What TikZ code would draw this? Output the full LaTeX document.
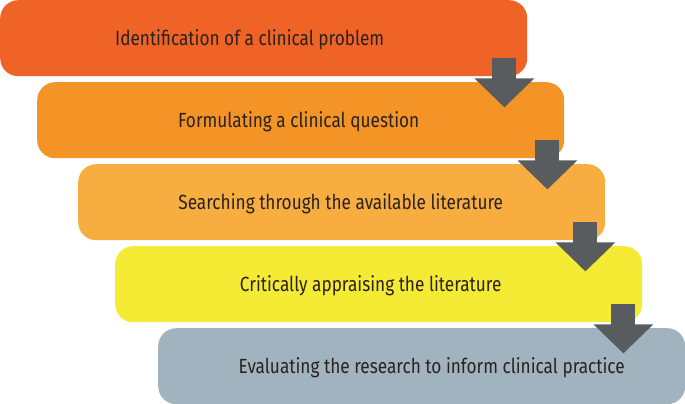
\documentclass[tikz,border=0pt]{standalone}
\usepackage{fontspec}
\setmainfont{Fira Sans}[FakeStretch=0.84]
\usepackage{xcolor}
\usetikzlibrary{arrows.meta}

\definecolor{stepA}{HTML}{EF6426}
\definecolor{stepB}{HTML}{F49426}
\definecolor{stepC}{HTML}{F8AD40}
\definecolor{stepD}{HTML}{F5EA34}
\definecolor{stepE}{HTML}{A1B3BF}
\definecolor{arrowgray}{HTML}{585C5E}
\definecolor{txtdark}{HTML}{2A2220}

\tikzset{
	stepbox/.style={rounded corners=18pt, anchor=north west, inner sep=0pt,
		minimum width=527pt, minimum height=76pt},
	steptext/.style={text=txtdark, font=\fontsize{20.5}{24}\selectfont, inner sep=0pt},
	blockarrow/.style={arrowgray, line width=24pt,
		-{Triangle[length=29pt 0 0, width=58pt 0 0]}}
}

\begin{document}
\begin{tikzpicture}[x=1pt, y=-1pt]

\def\stepy{82}

\useasboundingbox (0,0) rectangle (685,404); % full picture

\foreach \i/\xs/\col/\dx/\txt in {
	1/0/stepA/-14/Identification of a clinical problem,
	2/37/stepB/-2/Formulating a clinical question,
	3/78/stepC/-1/Searching through the available literature,
	4/115/stepD/-8/Critically appraising the literature,
	5/158/stepE/10/Evaluating the research to inform clinical practice} {
	\pgfmathsetmacro\ys{(\i - 1)*\stepy}
	\node[stepbox, fill=\col] (box\i) at (\xs,\ys) {};
	\node[steptext] (lab\i) at ([xshift=\dx pt, yshift=-1pt]box\i.center) {\txt};
}

% arrows between the steps
\foreach \i/\dx in {1/-23,2/-17,3/-20,4/-19} {
	\coordinate (s\i) at ([xshift=\dx pt, yshift=18pt]box\i.south east);
	\coordinate (t\i) at ([xshift=\dx pt, yshift=-31pt]box\i.south east);
	\draw[blockarrow] (s\i) -- (t\i);
}

\end{tikzpicture}
\end{document}
